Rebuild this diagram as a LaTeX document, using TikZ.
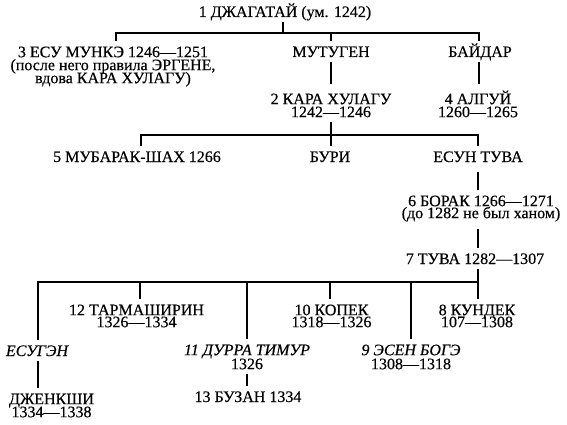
\documentclass[tikz,border=0pt]{standalone}
\usepackage{fontspec}
\setmainfont{Liberation Serif}[FakeBold=0.4]
\newcommand\toprl{\rule{0pt}{14pt}}
\newcommand\botrl{\rule[-3pt]{0pt}{3pt}}
\newcommand\tightlines{\fontsize{16}{13}\selectfont\lineskiplimit=-100pt\relax}
\begin{document}
\begin{tikzpicture}[x=1pt,y=-1pt,
  lbl/.style={inner xsep=0pt, inner ysep=2pt, anchor=base, text height=14pt, text depth=3pt,
              font=\fontsize{16}{13}\selectfont},
  itl/.style={lbl, font=\fontsize{16}{13}\selectfont\itshape},
  multi/.style={inner xsep=0pt, inner ysep=2pt, anchor=north, align=center,
              font=\tightlines},
  conn/.style={line width=1.1pt, black}]
\fill[white] (0,0) rectangle (567,425);
\useasboundingbox (0,0) rectangle (567,425);
% nodes
\node[lbl] (n0)    at (285,17)  {1 ДЖАГАТАЙ (ум. 1242)};
\node[multi] (esu) at (113,41)  {\toprl 3 ЕСУ МУНКЭ 1246—1251\\(после него правила ЭРГЕНЕ,\\вдова КАРА ХУЛАГУ)\botrl};
\node[lbl] (mut)   at (331,57)  {МУТУГЕН};
\node[lbl] (bay)   at (480,57)  {БАЙДАР};
\node[multi] (kara) at (331,88) {\toprl 2 КАРА ХУЛАГУ\\1242—1246\botrl};
\node[multi] (alg)  at (478,88) {\toprl 4 АЛГУЙ\\1260—1265\botrl};
\node[lbl] (mub)   at (137,162) {5 МУБАРАК-ШАХ 1266};
\node[lbl] (buri)  at (330,162) {БУРИ};
\node[lbl] (esun)  at (478,162) {ЕСУН ТУВА};
\node[multi] (bor) at (481,190) {\toprl 6 БОРАК 1266—1271\\[-1pt](до 1282 не был ханом)\botrl};
\node[lbl] (tuva)  at (475,264) {7 ТУВА 1282—1307};
\node[multi] (tar) at (136.5,299) {\toprl 12 ТАРМАШИРИН\\[-1pt]1326—1334\botrl};
\node[multi] (kop) at (331.5,299) {\toprl 10 КОПЕК\\[-1pt]1318—1326\botrl};
\node[multi] (kun) at (477,299)   {\toprl 8 КУНДЕК\\[-1pt]107—1308\botrl};
\node[itl] (esug)  at (37,356)  {ЕСУГЭН};
\node[multi] (dur) at (247,339) {\toprl\textit{11 ДУРРА ТИМУР}\\[1pt]1326\botrl};
\node[multi] (esen) at (411,339) {\toprl\textit{9 ЭСЕН БОГЭ}\\[1pt]1308—1318\botrl};
\node[lbl] (buz)   at (248,402) {13 БУЗАН 1334};
\node[multi] (dzh) at (51.5,388) {\toprl ДЖЕНКШИ\\1334—1338\botrl};
% bar coordinates
\coordinate (b1L) at (116,33); \coordinate (b1M) at (283,33);
\coordinate (b1C) at (331,33); \coordinate (b1R) at (479,33);
\coordinate (b2L) at (141,135); \coordinate (b2M) at (331,135); \coordinate (b2R) at (478,135);
\coordinate (b3L) at (38,282); \coordinate (b3a) at (140,282); \coordinate (b3b) at (247,282);
\coordinate (b3c) at (330,282); \coordinate (b3d) at (411,282); \coordinate (b3R) at (478,282);
% generation 1
\draw[conn] (n0.south -| b1M) -- (b1M);
\draw[conn] (b1L |- esu.north) -- (b1L) -- (b1R) -- (b1R |- bay.north);
\draw[conn] (b1C) -- (b1C |- mut.north);
\draw[conn, shorten >=4pt] (mut.south -| b1C) -- (b1C |- kara.north);
\draw[conn, shorten >=4pt] (bay.south -| b1R) -- (b1R |- alg.north);
% generation 2
\draw[conn] (kara.south -| b2M) -- (b2M |- buri.north);
\draw[conn] (b2L |- mub.north) -- (b2L) -- (b2R) -- (b2R |- esun.north);
\draw[conn, shorten <=5pt] (esun.south -| b2R) -- (b2R |- bor.north);
\draw[conn, shorten <=5pt] (bor.south -| b2R) -- (b2R |- tuva.north);
% generation 3
\draw[conn] (tuva.south -| b3R) -- (b3R |- kun.north);
\draw[conn] (b3L |- esug.north) -- (b3L) -- (b3R);
\draw[conn] (b3a) -- (b3a |- tar.north);
\draw[conn] (b3b) -- (b3b |- dur.north);
\draw[conn] (b3c) -- (b3c |- kop.north);
\draw[conn] (b3d) -- (b3d |- esen.north);
\draw[conn] (esug.south -| b3L) -- (b3L |- dzh.north);
\draw[conn] (dur.south -| b3b) -- (b3b |- buz.north);
\end{tikzpicture}
\end{document}
